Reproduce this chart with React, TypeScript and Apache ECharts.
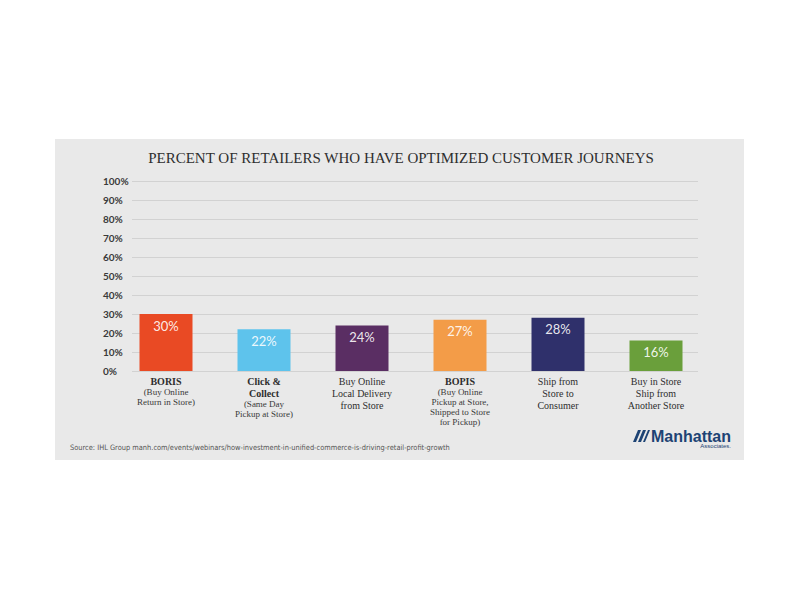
import React, { useEffect, useRef } from "react";
import * as echarts from "echarts";

const categories = [
  "BORIS",
  "Click & Collect",
  "Buy Online Local Delivery from Store",
  "BOPIS",
  "Ship from Store to Consumer",
  "Buy in Store Ship from Another Store",
];
const values = [30, 22, 24, 27, 28, 16];
const barColors = ["#E94A24", "#5EC3EC", "#5A2E63", "#F39C48", "#2F306B", "#6A9F3B"];
const labelHead = [
  "BORIS",
  "Click &\nCollect",
  "Buy Online\nLocal Delivery\nfrom Store",
  "BOPIS",
  "Ship from\nStore to\nConsumer",
  "Buy in Store\nShip from\nAnother Store",
];
const labelBold = [true, true, false, true, false, false];
const labelNote = [
  "(Buy Online\nReturn in Store)",
  "(Same Day\nPickup at Store)",
  "",
  "(Buy Online\nPickup at Store,\nShipped to Store\nfor Pickup)",
  "",
  "",
];
const yTicks = [0, 10, 20, 30, 40, 50, 60, 70, 80, 90, 100];
const titleText = "PERCENT OF RETAILERS WHO HAVE OPTIMIZED CUSTOMER JOURNEYS";
const sourceText =
  "Source: IHL Group manh.com/events/webinars/how-investment-in-unified-commerce-is-driving-retail-profit-growth";

const SERIF = "'Liberation Serif', 'DejaVu Serif', serif";

export default function App() {
  const ref = useRef<HTMLDivElement>(null);
  useEffect(() => {
    document.body.style.margin = "0";
    const chart = echarts.init(ref.current!, null, { renderer: "svg" });
    const formatLabel = (_v: string, i: number) => {
      const head = labelHead[i]
        .split("\n")
        .map((l) => `{${labelBold[i] ? "b" : "n"}|${l}}`)
        .join("\n");
      const note = labelNote[i]
        ? "\n" +
          labelNote[i]
            .split("\n")
            .map((l) => `{s|${l}}`)
            .join("\n")
        : "";
      return head + note;
    };
    const option: any = {
      animation: false,
      backgroundColor: "#ffffff",
      graphic: [
        {
          type: "rect",
          z: -10,
          shape: { x: 55, y: 139, width: 689, height: 321 },
          style: { fill: "#E9E9E9" },
          silent: true,
        },
        {
          type: "text",
          x: 401,
          y: 158,
          style: {
            text: titleText,
            fill: "#2e2e2e",
            font: `15px ${SERIF}`,
            textAlign: "center",
            textVerticalAlign: "middle",
          },
        },
        {
          type: "text",
          x: 70,
          y: 447,
          style: {
            text: sourceText,
            fill: "#555555",
            font: "7.4px 'Liberation Sans Narrow', 'DejaVu Sans Condensed', sans-serif",
            textAlign: "left",
            textVerticalAlign: "middle",
          },
        },
        {
          type: "polygon",
          shape: { points: [[633, 442], [638, 430], [641, 430], [636, 442]] },
          style: { fill: "#1D4374" },
        },
        {
          type: "polygon",
          shape: { points: [[638, 442], [643, 430], [646, 430], [641, 442]] },
          style: { fill: "#1D4374" },
        },
        {
          type: "polygon",
          shape: { points: [[643, 442], [648, 430], [650, 430], [645, 442]] },
          style: { fill: "#1D4374" },
        },
        {
          type: "text",
          x: 651,
          y: 436,
          style: {
            text: "Manhattan",
            fill: "#1D4374",
            font: "bold 16px 'Liberation Sans', Arial, sans-serif",
            textAlign: "left",
            textVerticalAlign: "middle",
          },
        },
        {
          type: "text",
          x: 731,
          y: 446,
          style: {
            text: "Associates.",
            fill: "#1D4374",
            font: "6px 'Liberation Sans', Arial, sans-serif",
            textAlign: "right",
            textVerticalAlign: "middle",
          },
        },
      ],
      grid: [
        { left: 132, right: 102, top: 181, bottom: 229 },
        { left: 117, right: 95, top: 181, bottom: 229 },
      ],
      xAxis: [
        { gridIndex: 0, type: "value", show: false, min: 0, max: 1 },
        {
          gridIndex: 1,
          type: "category",
          data: categories,
          axisLine: { show: false },
          axisTick: { show: false },
          axisLabel: {
            interval: 0,
            margin: 4,
            formatter: formatLabel,
            rich: {
              b: { fontFamily: SERIF, fontSize: 10, fontWeight: "bold", color: "#2e2e2e", lineHeight: 12 },
              n: { fontFamily: SERIF, fontSize: 10, color: "#2e2e2e", lineHeight: 12 },
              s: { fontFamily: SERIF, fontSize: 9, color: "#3a3a3a", lineHeight: 10 },
            },
          },
        },
      ],
      yAxis: [
        {
          gridIndex: 0,
          type: "value",
          min: yTicks[0],
          max: yTicks[yTicks.length - 1],
          interval: 10,
          axisLine: { show: false },
          axisTick: { show: false },
          splitLine: { lineStyle: { color: "#D2D2D2", width: 1 } },
          axisLabel: {
            formatter: "{value}%",
            align: "left",
            margin: 29,
            color: "#3a3a3a",
            fontSize: 10,
            fontWeight: "bold",
            fontFamily: "Lato, 'Open Sans', sans-serif",
          },
        },
        { gridIndex: 1, type: "value", min: 0, max: 100, show: false },
      ],
      series: [
        {
          type: "bar",
          xAxisIndex: 1,
          yAxisIndex: 1,
          barWidth: 53,
          data: values.map((v, i) => ({ value: v, itemStyle: { color: barColors[i] } })),
          label: {
            show: true,
            position: "insideTop",
            distance: 5,
            formatter: "{c}%",
            color: "rgba(255,255,255,0.9)",
            fontSize: 13,
            fontFamily: "Lato, 'Open Sans', sans-serif",
          },
        },
      ],
    };
    chart.setOption(option);
    return () => chart.dispose();
  }, []);
  return <div ref={ref} style={{ width: 800, height: 600 }} />;
}
